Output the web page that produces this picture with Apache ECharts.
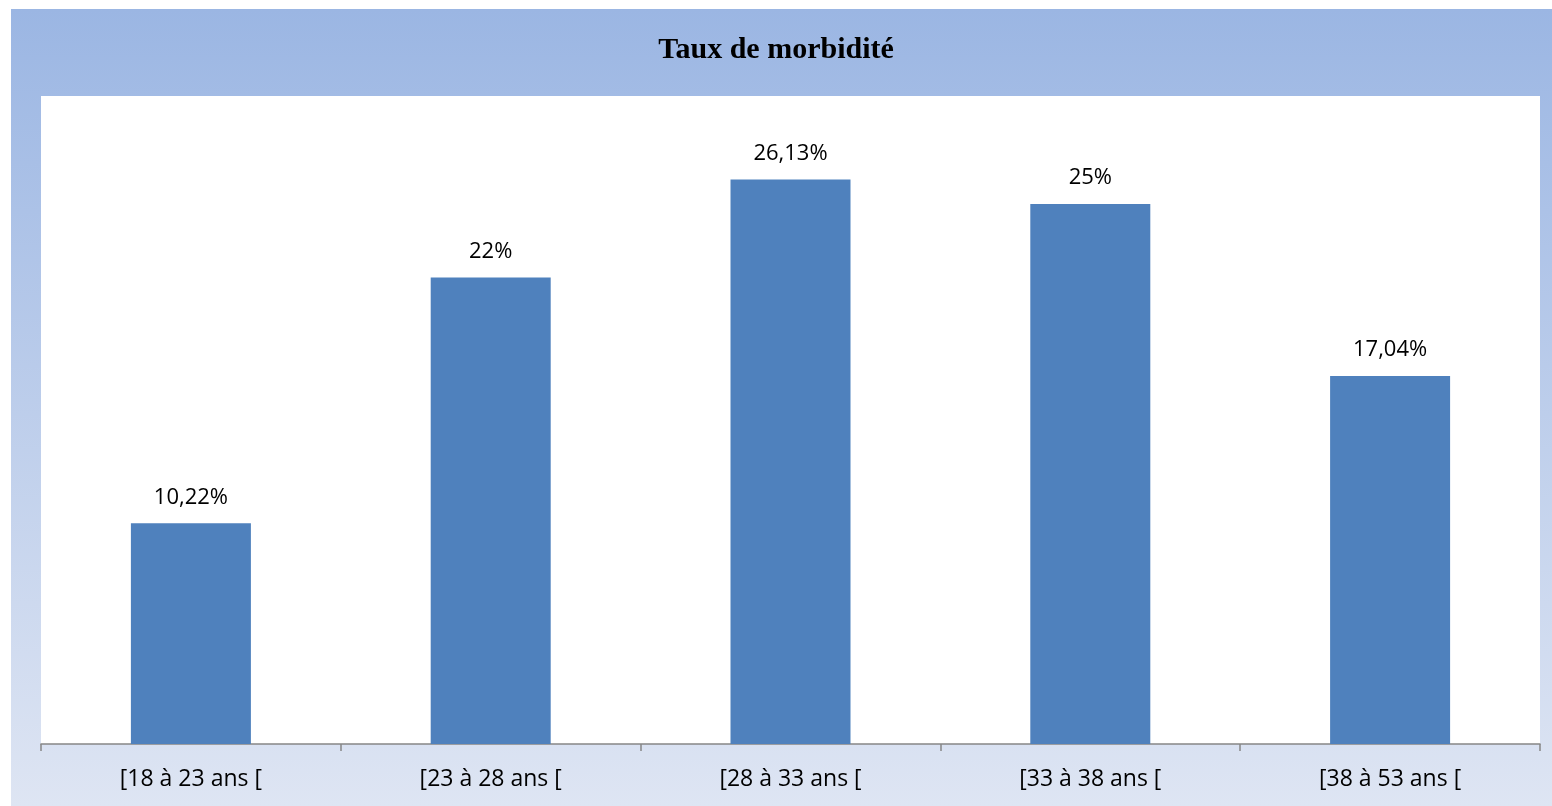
<!DOCTYPE html>
<html>
<head>
<meta charset="utf-8">
<script src="https://cdn.jsdelivr.net/npm/echarts@6/dist/echarts.min.js"></script>
<style>
  html, body { margin: 0; padding: 0; background: #ffffff; }
  #chart { width: 1552px; height: 806px; }
</style>
</head>
<body>
<div id="chart"></div>
<script>
const categories = ['[18 à 23 ans [', '[23 à 28 ans [', '[28 à 33 ans [', '[33 à 38 ans [', '[38 à 53 ans [']
const rates = [10.22, 21.6, 26.13, 25, 17.04]
const rateLabels = ['10,22%', '22%', '26,13%', '25%', '17,04%']

const chart = echarts.init(document.getElementById('chart'))

const option = {
  animation: false,
  title: {
    text: 'Taux de morbidité',
    left: 'center',
    top: 30,
    textStyle: {
      fontFamily: '"Liberation Serif", "Times New Roman", serif',
      fontWeight: 'bold',
      fontSize: 30,
      color: '#000000',
    },
  },
  graphic: [
    {
      type: 'rect',
      z: -10,
      shape: { x: 11, y: 9, width: 1541, height: 797 },
      style: {
        fill: {
          type: 'linear',
          x: 0, y: 0, x2: 0, y2: 1,
          colorStops: [
            { offset: 0, color: '#9bb6e3' },
            { offset: 1, color: '#dee5f3' },
          ],
        },
      },
    },
    {
      type: 'rect',
      z: -9,
      shape: { x: 41, y: 96, width: 1499, height: 648 },
      style: { fill: '#ffffff' },
    },
  ],
  grid: {
    left: 41,
    top: 96,
    width: 1499,
    height: 648,
    containLabel: false,
  },
  xAxis: {
    type: 'category',
    data: categories,
    boundaryGap: true,
    axisLine: { lineStyle: { color: '#868686', width: 1.5 } },
    axisTick: {
      show: true,
      inside: false,
      length: 7,
      lineStyle: { color: '#868686', width: 1.5 },
    },
    axisLabel: {
      color: '#000000',
      fontFamily: '"Open Sans", sans-serif',
      fontSize: 23,
      margin: 24,
    },
  },
  yAxis: {
    type: 'value',
    min: 0,
    max: 30,
    show: false,
    splitLine: { show: false },
  },
  series: [
    {
      type: 'bar',
      data: rates,
      barWidth: 120,
      itemStyle: { color: '#4f81bd' },
      label: {
        show: true,
        position: 'top',
        distance: 15,
        color: '#000000',
        fontFamily: '"Open Sans", sans-serif',
        fontSize: 22,
        formatter: (p) => rateLabels[p.dataIndex],
      },
    },
  ],
}

chart.setOption(option)
</script>
</body>
</html>
